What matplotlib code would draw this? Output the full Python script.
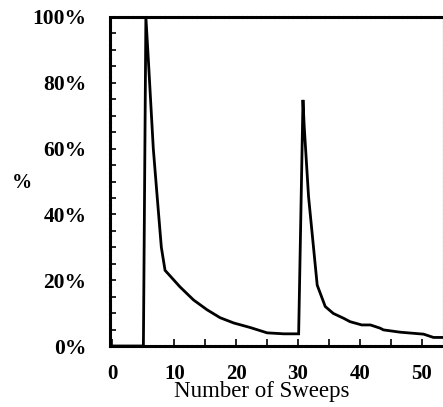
import matplotlib
matplotlib.use("Agg")
import matplotlib.pyplot as plt
from matplotlib.ticker import MultipleLocator, FuncFormatter

sweeps = [0, 5.0, 5.4, 5.8, 6.6, 7.2, 7.9, 8.5, 10.9, 13.1, 15.3, 17.4, 19.6, 22.3, 25.0, 27.7,
          30.1, 30.8, 31.0, 31.7, 33.1, 34.4, 35.7, 37.4, 38.4, 40.3, 41.7, 43.3, 43.8, 46.5,
          50.3, 51.9, 53.6]
percent = [0, 0, 100, 87, 60, 46, 30, 23, 18, 14, 11, 8.6, 7.0, 5.6, 4.0, 3.7,
           3.7, 74.8, 66.7, 45.4, 18.5, 12, 9.9, 8.4, 7.4, 6.4, 6.4, 5.4, 4.9, 4.2,
           3.6, 2.6, 2.6]
x_ticks = [0, 10, 20, 30, 40, 50]
y_ticks = [0, 20, 40, 60, 80, 100]

W, H = 443, 407
fig = plt.figure(figsize=(W / 100, H / 100), dpi=100)
ax = fig.add_axes([110 / W, (H - 346) / H, 334 / W, 329 / H])

ax.plot(sweeps, percent, color="black", linewidth=2.0, solid_joinstyle="miter", clip_on=False)
ax.set_xlim(-0.4, 53.6)
ax.set_ylim(0, 100)

ax.set_xticks(x_ticks)
ax.xaxis.set_minor_locator(MultipleLocator(5))
ax.set_yticks(y_ticks)
ax.yaxis.set_minor_locator(MultipleLocator(5))
ax.yaxis.set_major_formatter(FuncFormatter(lambda v, p: f"{int(v)}%"))

ax.tick_params(axis="x", which="both", direction="in", length=5, width=1.2, pad=13)
ax.tick_params(axis="y", which="both", direction="in", length=4, width=1.2, pad=17)

for lab in ax.get_xticklabels():
    lab.set_fontfamily("Liberation Serif")
    lab.set_fontweight("bold")
    lab.set_fontsize(15)
for lab in ax.get_yticklabels():
    lab.set_fontfamily("Liberation Serif")
    lab.set_fontweight("bold")
    lab.set_fontsize(15.5)

for s in ax.spines.values():
    s.set_linewidth(2.2)
    s.set_linestyle((0, (1.0, 0.5)))

ax.set_xlabel("Number of Sweeps", fontfamily="Liberation Serif", fontsize=16.5)
ax.xaxis.set_label_coords((262 - 110) / 334, -(381 - 346) / 329)
ax.set_ylabel("%", fontfamily="Liberation Serif", fontsize=14.5, fontweight="bold",
              rotation=0, va="center", ha="center")
ax.yaxis.set_label_coords((22 - 110) / 334, (346 - 183) / 329)

fig.savefig("out.png", dpi=100)
